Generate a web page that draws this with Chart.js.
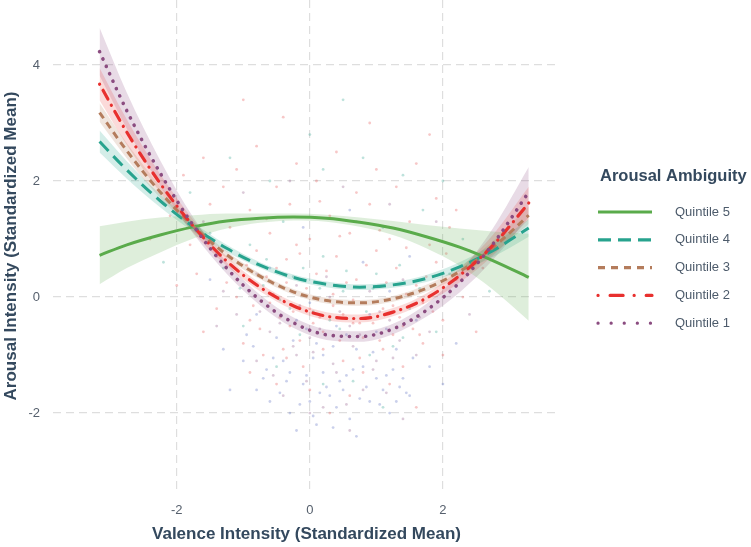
<!DOCTYPE html>
<html>
<head>
<meta charset="utf-8">
<script src="https://cdn.jsdelivr.net/npm/chart.js@4.4.1/dist/chart.umd.min.js"></script>
<style>
  html, body { margin: 0; padding: 0; background: #ffffff; }
</style>
</head>
<body>
<canvas id="chart" width="751" height="547"></canvas>
<script>
const xGrid = [-3.16, -2.75, -2.25, -1.75, -1.25, -0.75, -0.25, 0.25, 0.75, 1.25, 1.75, 2.25, 2.75, 3.29];

// fitted arousal per quintile
const q5 = [0.72, 0.90, 1.07, 1.21, 1.31, 1.36, 1.38, 1.36, 1.29, 1.19, 1.04, 0.86, 0.63, 0.34];
const q4 = [2.68, 2.19, 1.66, 1.21, 0.84, 0.55, 0.34, 0.22, 0.17, 0.21, 0.32, 0.52, 0.80, 1.19];
const q3 = [3.18, 2.52, 1.81, 1.22, 0.73, 0.36, 0.09, -0.06, -0.10, -0.03, 0.15, 0.44, 0.85, 1.41];
const q2 = [3.67, 2.84, 1.96, 1.22, 0.62, 0.17, -0.15, -0.33, -0.37, -0.26, -0.02, 0.37, 0.89, 1.62];
const q1 = [4.23, 3.21, 2.14, 1.23, 0.50, -0.05, -0.44, -0.65, -0.68, -0.55, -0.23, 0.25, 0.91, 1.81];

// half width of the confidence ribbons
const q5Ci = [0.50, 0.40, 0.30, 0.20, 0.13, 0.08, 0.06, 0.06, 0.08, 0.12, 0.20, 0.32, 0.50, 0.75];
const q4Ci = [0.19, 0.15, 0.11, 0.08, 0.06, 0.05, 0.05, 0.05, 0.05, 0.05, 0.06, 0.08, 0.11, 0.15];
const q3Ci = [0.16, 0.13, 0.10, 0.07, 0.06, 0.05, 0.05, 0.05, 0.05, 0.05, 0.06, 0.08, 0.11, 0.15];
const q2Ci = [0.28, 0.22, 0.16, 0.11, 0.08, 0.07, 0.07, 0.07, 0.07, 0.07, 0.08, 0.12, 0.18, 0.28];
const q1Ci = [0.41, 0.31, 0.22, 0.14, 0.10, 0.09, 0.09, 0.09, 0.09, 0.09, 0.11, 0.17, 0.27, 0.43];

const xTicks = [-2, 0, 2];
const yTicks = [-2, 0, 2, 4];
const legendTitle = 'Arousal Ambiguity';

// raw observations (faint cloud behind the fits)
const cloudRed = [
  [-1.9,2.1],[-1.6,2.4],[-1.3,1.9],[-1.1,2.2],[-0.8,2.6],[-0.5,1.9],[-0.2,2.3],[0.1,2.0],[0.4,2.5],[0.7,1.8],
  [1.0,2.2],[1.3,1.9],[1.6,2.3],[1.9,1.7],[2.2,1.5],[-2.1,1.4],[-1.8,0.9],[-1.5,1.6],[-1.2,1.2],[-0.9,1.5],
  [-0.6,1.1],[-0.3,1.6],[0.0,1.0],[0.3,1.4],[0.6,1.1],[0.9,1.6],[1.2,1.0],[1.5,1.3],[1.8,0.9],[2.1,1.2],
  [2.4,0.8],[-1.7,0.4],[-1.4,0.7],[-1.1,0.3],[-0.8,0.8],[-0.5,0.5],[-0.2,0.9],[0.1,0.4],[0.4,0.7],[0.7,0.3],
  [1.0,0.8],[1.3,0.5],[1.6,0.2],[1.9,0.6],[2.2,0.3],[-1.4,-0.2],[-1.1,0.0],[-0.9,-0.4],[-0.6,-0.1],[-0.3,-0.5],
  [0.0,-0.2],[0.2,-0.6],[0.5,-0.3],[0.8,-0.7],[1.1,-0.2],[1.4,-0.5],[1.7,-0.1],[2.0,-0.4],[2.3,0.0],[-1.0,-0.8],
  [-0.7,-1.0],[-0.4,-0.9],[-0.1,-1.2],[0.2,-0.9],[0.5,-1.1],[0.8,-1.3],[1.1,-0.9],[1.4,-1.2],[1.7,-0.8],[2.0,-1.0],
  [-0.5,-1.5],[0.0,-1.6],[0.6,-1.7],[1.2,-1.5],[1.6,-1.9],[-0.9,-1.3],[0.3,-2.0],[-2.0,0.2],[-1.6,-0.6],[-2.4,1.0],
  [2.6,0.5],[2.5,-0.6],[0.9,3.0],[-1.0,3.4],[1.8,2.8],[-0.4,3.1],[0.35,0.05],[0.65,-0.45],[-0.35,0.25],[1.25,-0.65],
  [-0.95,0.55],[-0.65,0.35],[-0.35,0.65],[-0.05,0.15],[0.25,0.45],[0.55,0.25],[0.85,0.55],[1.15,0.25],[1.45,0.05],[1.75,0.35],
  [-0.85,-0.15],[-0.55,0.05],[-0.25,-0.25],[0.05,-0.45],[0.35,-0.15],[0.65,-0.05],[0.95,-0.45],[1.25,-0.15],[1.55,-0.55],[1.85,-0.25],
  [-0.75,-0.55],[-0.45,-0.35],[-0.15,-0.75],[0.15,-0.35],[0.45,-0.75],[0.75,-0.45],[1.05,-0.75],[1.35,-0.35],[1.65,-0.65],[-1.25,0.25],
  [-0.15,0.75],[0.45,1.05],[1.05,1.15],[-0.65,1.35],[0.15,1.65],[1.45,0.85],[-1.45,0.95],[2.05,0.75],[0.75,-1.05],[-0.35,-1.05]
];
const cloudBlue = [
  [-0.8,-0.3],[-0.5,-0.7],[-0.2,-0.4],[0.1,-0.8],[0.4,-0.5],[0.7,-0.9],[1.0,-0.6],[1.3,-0.9],[1.6,-0.4],[-1.0,-1.1],
  [-0.7,-1.4],[-0.4,-1.1],[-0.1,-1.5],[0.2,-1.3],[0.5,-1.6],[0.8,-1.2],[1.1,-1.6],[1.4,-1.4],[1.8,-1.2],[-0.6,-1.8],
  [-0.3,-2.0],[0.0,-1.8],[0.3,-1.7],[0.6,-2.1],[0.9,-1.8],[1.2,-2.0],[1.5,-1.7],[-0.2,-2.3],[0.1,-2.2],[0.7,-2.4],
  [-1.3,-0.9],[-1.2,-1.6],[2.0,-1.5],[2.2,-0.8],[0.0,-0.1],[0.4,0.2],[-0.6,0.5],[1.2,0.1],[0.8,0.6],[-1.5,0.3],
  [-0.1,1.2],[0.6,1.5],[1.5,0.7],[0.2,-1.0],[-0.3,-1.3],[1.0,-1.4],[0.4,-1.9],[-0.8,-1.6],[1.3,-1.8],[0.9,-0.3],
  [-0.85,-0.85],[-0.55,-1.05],[-0.25,-0.75],[0.05,-1.05],[0.35,-0.85],[0.65,-1.25],[0.95,-0.95],[1.25,-1.25],[1.55,-1.05],[-0.65,-1.25],
  [-0.35,-1.45],[-0.05,-1.35],[0.25,-1.55],[0.55,-1.35],[0.85,-1.55],[1.15,-1.35],[1.45,-1.65],[-0.45,-1.65],[-0.15,-1.85],[0.15,-1.65],
  [0.45,-1.45],[0.75,-1.75],[1.05,-1.85],[1.35,-1.55],[0.05,-2.05],[0.35,-2.25],[-0.05,-0.55],[0.55,-0.65],[1.15,-0.55],[-0.95,-0.65]
];
const cloudTeal = [
  [-1.8,1.8],[-1.2,2.4],[-0.6,2.0],[0.2,2.2],[0.8,2.4],[1.4,2.1],[2.0,2.0],[-1.5,1.1],[-0.9,0.9],[-0.4,1.3],
  [0.2,0.7],[0.7,1.3],[1.1,1.2],[1.7,1.5],[2.3,1.0],[-1.3,0.5],[-0.7,0.2],[-0.1,0.5],[0.5,0.1],[1.0,0.4],
  [1.5,-0.2],[2.1,0.4],[-1.0,-0.5],[-0.3,-0.2],[0.3,-0.4],[0.9,-1.0],[1.4,-0.7],[-0.5,-1.2],[0.2,-1.5],[1.1,-1.9],
  [0.5,3.4],[1.9,-0.6],[-2.2,0.6],[2.7,0.1],[0.0,2.8],
  [-0.65,0.65],[-0.25,0.35],[0.15,0.15],[0.55,0.45],[0.95,0.15],[1.35,0.55],[-0.45,-0.05],[0.05,-0.25],[0.45,-0.55],[0.85,-0.25],
  [1.25,-0.85],[-0.15,-0.65],[0.65,-1.45],[1.65,0.15],[-1.05,0.15]
];
const cloudPurple = [
  [-1.6,1.3],[-1.0,1.8],[-0.3,2.0],[0.5,1.9],[1.2,1.6],[1.9,1.3],[-1.3,0.1],[-0.8,0.4],[-0.2,0.2],[0.3,0.0],
  [0.9,0.1],[1.4,0.3],[2.0,0.0],[-1.1,-0.3],[-0.6,-0.6],[0.0,-0.7],[0.6,-0.5],[1.2,-0.4],[1.8,-0.6],[-0.8,-1.1],
  [-0.2,-1.0],[0.4,-1.3],[1.0,-1.1],[1.6,-1.0],[-0.4,-1.7],[0.2,-1.9],[0.8,-1.6],[1.4,-2.1],[0.0,-2.0],[-1.4,-0.5],
  [2.4,-0.3],[0.6,-2.3],
  [-0.75,-0.25],[-0.45,-0.45],[-0.15,-0.15],[0.15,-0.55],[0.45,-0.25],[0.75,-0.65],[1.05,-0.25],[1.35,-0.75],[1.65,-0.35],[-0.25,-0.85],
  [0.05,-0.95],[0.35,-1.15],[0.65,-0.85],[0.95,-1.25],[1.25,-1.05],[-0.55,-1.35],[-0.05,-1.45],[0.55,-1.85],[1.15,-1.65],[0.25,0.35]
];

const quintiles = [
  { label: 'Quintile 5', fit: q5, ci: q5Ci, color: '#5aab4b', band: 'rgba(90,171,75,0.20)', dash: [], legendDash: [], cap: 'butt', width: 3 },
  { label: 'Quintile 4', fit: q4, ci: q4Ci, color: '#27a38e', band: 'rgba(39,163,142,0.20)', dash: [13, 7], legendDash: [13, 7], cap: 'butt', width: 3 },
  { label: 'Quintile 3', fit: q3, ci: q3Ci, color: '#b47c5c', band: 'rgba(180,124,92,0.20)', dash: [7, 5], legendDash: [7, 6], cap: 'butt', width: 3 },
  { label: 'Quintile 2', fit: q2, ci: q2Ci, color: '#e8302e', band: 'rgba(232,48,46,0.18)', dash: [0.1, 7, 10, 7], legendDash: [0.1, 12, 13, 11], cap: 'round', width: 3.2 },
  { label: 'Quintile 1', fit: q1, ci: q1Ci, color: '#8b4c80', band: 'rgba(139,76,128,0.20)', dash: [0.1, 8], legendDash: [0.1, 13], cap: 'round', width: 3.6 }
];

const toPoints = arr => arr.map(p => ({ x: p[0], y: p[1] }));

const datasets = [];
[[cloudRed, 'rgba(228,70,70,0.30)'], [cloudBlue, 'rgba(80,100,190,0.30)'],
 [cloudTeal, 'rgba(40,160,140,0.30)'], [cloudPurple, 'rgba(140,80,130,0.30)']].forEach(c => {
  datasets.push({
    data: toPoints(c[0]),
    showLine: false,
    pointRadius: 1.4,
    pointBorderWidth: 0,
    pointBackgroundColor: c[1],
    order: 30
  });
});

quintiles.forEach(q => {
  datasets.push({
    data: xGrid.map((x, i) => ({ x: x, y: q.fit[i] + q.ci[i] })),
    borderWidth: 0,
    pointRadius: 0,
    backgroundColor: q.band,
    fill: '+1',
    cubicInterpolationMode: 'monotone',
    order: 20
  });
  datasets.push({
    data: xGrid.map((x, i) => ({ x: x, y: q.fit[i] - q.ci[i] })),
    borderWidth: 0,
    pointRadius: 0,
    fill: false,
    cubicInterpolationMode: 'monotone',
    order: 20
  });
});

quintiles.slice().reverse().forEach(q => {
  datasets.push({
    label: q.label,
    data: xGrid.map((x, i) => ({ x: x, y: q.fit[i] })),
    borderColor: q.color,
    borderWidth: q.width,
    borderDash: q.dash,
    borderCapStyle: q.cap,
    pointRadius: 0,
    fill: false,
    cubicInterpolationMode: 'monotone',
    order: 10
  });
});

const sideLegend = {
  id: 'sideLegend',
  afterDraw(chart) {
    const ctx = chart.ctx;
    ctx.save();
    ctx.textBaseline = 'middle';
    ctx.fillStyle = '#34495e';
    ctx.font = 'bold 16.5px "Liberation Sans", Arial, sans-serif';
    ctx.fillText(legendTitle, 600, 176);
    quintiles.forEach((q, i) => {
      const y = 212 + i * 27.8;
      ctx.beginPath();
      ctx.setLineDash(q.legendDash);
      ctx.lineCap = q.cap;
      ctx.lineWidth = 3.2;
      ctx.strokeStyle = q.color;
      ctx.moveTo(598, y);
      ctx.lineTo(652, y);
      ctx.stroke();
      ctx.setLineDash([]);
      ctx.fillStyle = '#4d5b6b';
      ctx.font = '13px "Liberation Sans", Arial, sans-serif';
      ctx.fillText(q.label, 675, y);
    });
    ctx.restore();
  }
};

const tickFont = { family: '"Liberation Sans", Arial, sans-serif', size: 13 };
const titleFont = { family: '"Liberation Sans", Arial, sans-serif', size: 17, weight: 'bold' };

new Chart(document.getElementById('chart'), {
  type: 'line',
  data: { datasets: datasets },
  options: {
    responsive: false,
    animation: false,
    layout: { autoPadding: false, padding: { left: 0, right: 191, top: 0, bottom: 0 } },
    plugins: { legend: { display: false }, tooltip: { enabled: false } },
    scales: {
      x: {
        type: 'linear',
        min: -3.86,
        max: 3.76,
        afterBuildTicks: s => { s.ticks = xTicks.map(v => ({ value: v })); },
        afterFit: s => { s.height = 55; s.paddingLeft = 0; s.paddingRight = 0; },
        grid: { color: '#dedede', lineWidth: 1.2, drawTicks: false },
        border: { display: false, dash: [8, 5] },
        ticks: { padding: 11, color: '#56606d', font: tickFont },
        title: {
          display: true,
          text: 'Valence Intensity (Standardized Mean)',
          color: '#34495e',
          font: titleFont,
          padding: { top: 2, bottom: 2 }
        }
      },
      y: {
        type: 'linear',
        min: -3.36,
        max: 5.12,
        afterBuildTicks: s => { s.ticks = yTicks.map(v => ({ value: v })); },
        afterFit: s => { s.width = 53; s.paddingTop = 0; s.paddingBottom = 0; },
        grid: { color: '#dedede', lineWidth: 1.2, drawTicks: false },
        border: { display: false, dash: [8, 5] },
        ticks: { padding: 13, color: '#56606d', font: tickFont },
        title: {
          display: true,
          text: 'Arousal Intensity (Standardized Mean)',
          color: '#34495e',
          font: titleFont,
          padding: { top: 1, bottom: 0 }
        }
      }
    }
  },
  plugins: [sideLegend]
});
</script>
</body>
</html>
